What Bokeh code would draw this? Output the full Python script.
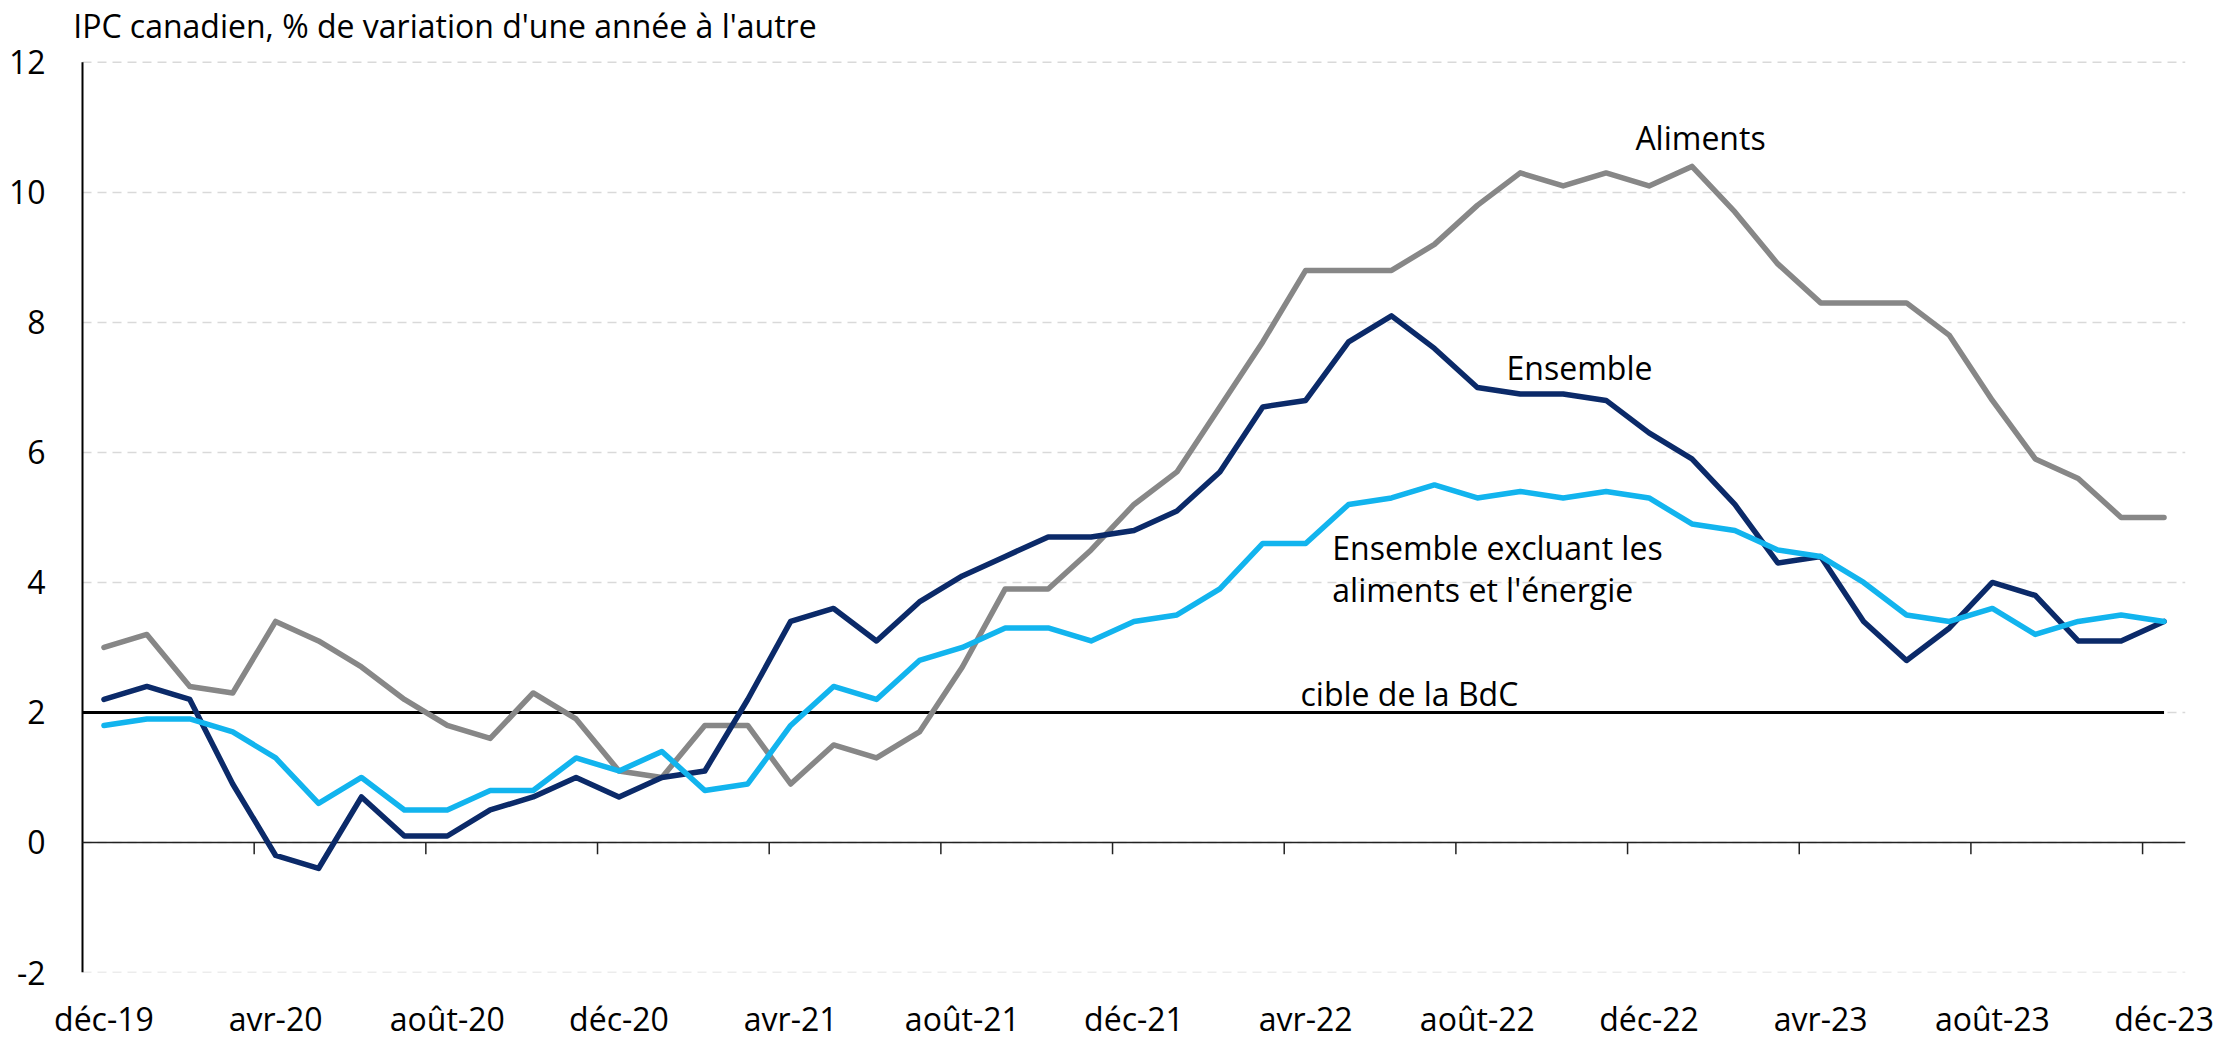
from bokeh.plotting import figure
from bokeh.models import Range1d, FixedTicker, Label
from bokeh.embed import file_html
from bokeh.resources import INLINE

# ---------------- data ----------------
mois_noms = ["janv", "févr", "mars", "avr", "mai", "juin",
             "juil", "août", "sept", "oct", "nov", "déc"]
# déc-19 ... déc-23 (49 mois)
mois = ["déc-19"] + [f"{m}-{a}" for a in range(20, 24) for m in mois_noms]

aliments = [3.0, 3.2, 2.4, 2.3, 3.4, 3.1, 2.7, 2.2, 1.8, 1.6, 2.3, 1.9,
            1.1, 1.0, 1.8, 1.8, 0.9, 1.5, 1.3, 1.7, 2.7, 3.9, 3.9, 4.5,
            5.2, 5.7, 6.7, 7.7, 8.8, 8.8, 8.8, 9.2, 9.8, 10.3, 10.1, 10.3,
            10.1, 10.4, 9.7, 8.9, 8.3, 8.3, 8.3, 7.8, 6.8, 5.9, 5.6, 5.0, 5.0]

ensemble = [2.2, 2.4, 2.2, 0.9, -0.2, -0.4, 0.7, 0.1, 0.1, 0.5, 0.7, 1.0,
            0.7, 1.0, 1.1, 2.2, 3.4, 3.6, 3.1, 3.7, 4.1, 4.4, 4.7, 4.7,
            4.8, 5.1, 5.7, 6.7, 6.8, 7.7, 8.1, 7.6, 7.0, 6.9, 6.9, 6.8,
            6.3, 5.9, 5.2, 4.3, 4.4, 3.4, 2.8, 3.3, 4.0, 3.8, 3.1, 3.1, 3.4]

hors_alim_energie = [1.8, 1.9, 1.9, 1.7, 1.3, 0.6, 1.0, 0.5, 0.5, 0.8, 0.8, 1.3,
                     1.1, 1.4, 0.8, 0.9, 1.8, 2.4, 2.2, 2.8, 3.0, 3.3, 3.3, 3.1,
                     3.4, 3.5, 3.9, 4.6, 4.6, 5.2, 5.3, 5.5, 5.3, 5.4, 5.3, 5.4,
                     5.3, 4.9, 4.8, 4.5, 4.4, 4.0, 3.5, 3.4, 3.6, 3.2, 3.4, 3.5, 3.4]

cible = 2.0
y_ticks = [-2, 0, 2, 4, 6, 8, 10, 12]
y_labels = {t: str(t) for t in y_ticks}

titre = "IPC canadien, % de variation d'une année à l'autre"

# ---------------- style ----------------
FONT = "Open Sans"
FS = "32px"
C_ALIM = "#878787"
C_ENS = "#0b2a69"
C_CORE = "#12b4ee"
C_AXE = "#222222"

n = len(mois)
x = list(range(n))
x0, x1 = -0.5, n - 0.5            # category band edges
y0, y1 = y_ticks[0], y_ticks[-1]  # value axis extent

# frame is a little larger than the value axis so the caption sits inside it
W, H = 2233, 1042
left_pad_px, top_pad_px = 12, 62
px_cat = (W - 70 - 48) / (x1 - x0 + left_pad_px / 42.92)
px_val = (H - 68) / (y1 - y0 + top_pad_px / 65.19)

p = figure(width=W, height=H, output_backend="svg", toolbar_location=None,
           x_range=Range1d(x0 - left_pad_px / px_cat, x1),
           y_range=Range1d(y0, y1 + top_pad_px / px_val),
           min_border_left=70, min_border_right=48, min_border_top=0,
           min_border_bottom=68)
p.outline_line_color = None
p.background_fill_color = "white"
p.border_fill_color = "white"

# x axis (labels only, at the bottom)
lab_idx = list(range(0, n, 4))
p.xaxis.ticker = FixedTicker(ticks=lab_idx)
p.xaxis.major_label_overrides = {i: mois[i] for i in lab_idx}
p.xaxis.axis_line_color = None
p.xaxis.major_tick_line_color = None
p.xaxis.minor_tick_line_color = None
p.xaxis.major_tick_out = 0
p.xaxis.major_tick_in = 0
p.xaxis.major_label_standoff = 24
p.xaxis.major_label_text_line_height = 1.0
p.xaxis.major_label_text_font = FONT
p.xaxis.major_label_text_font_size = FS
p.xaxis.major_label_text_color = "black"
p.xgrid.visible = False
p.ygrid.visible = False

# y axis (labels only; axis line drawn below)
p.yaxis.ticker = FixedTicker(ticks=y_ticks)
p.yaxis.major_label_overrides = y_labels
p.yaxis.axis_line_color = None
p.yaxis.major_tick_line_color = None
p.yaxis.minor_tick_line_color = None
p.yaxis.major_tick_out = 0
p.yaxis.major_tick_in = 0
p.yaxis.major_label_standoff = 25
p.yaxis.major_label_text_font = FONT
p.yaxis.major_label_text_font_size = FS
p.yaxis.major_label_text_color = "black"

# dashed horizontal gridlines between the category edges
p.segment(x0=[x0] * len(y_ticks), y0=y_ticks, x1=[x1] * len(y_ticks), y1=y_ticks,
          line_color="#d9d9d9", line_dash="9 6", line_width=1.5)

# value axis line
p.segment(x0=[x0], y0=[y0], x1=[x0], y1=[y1], line_color="black", line_width=2)

# zero line with category-boundary tick marks
p.segment(x0=[x0], y0=[0], x1=[x1], y1=[0], line_color=C_AXE, line_width=1.5)
bords = [i + 3.5 for i in range(0, n - 1, 4)]
p.segment(x0=bords, y0=[0] * len(bords), x1=bords, y1=[-0.18] * len(bords),
          line_color=C_AXE, line_width=1.5)

# target line
p.line([x0, n - 1], [cible, cible], line_color="black", line_width=3)

# series
p.line(x, aliments, line_color=C_ALIM, line_width=5.5, line_join="round", line_cap="round")
p.line(x, ensemble, line_color=C_ENS, line_width=5.5, line_join="round", line_cap="round")
p.line(x, hors_alim_energie, line_color=C_CORE, line_width=5.5, line_join="round", line_cap="round")

# texts
def lab(xv, yv, txt, align="left", dx=0):
    p.add_layout(Label(x=xv, y=yv, text=txt, text_align=align, text_baseline="alphabetic",
                       x_offset=dx, text_font=FONT, text_font_size=FS, text_color="black"))

lab(x0, 12.56, titre, dx=-9.3)
lab(37.2, 10.85, "Aliments", align="center")
lab(34.38, 7.30, "Ensemble", align="center")
lab(28.62, 4.53, "Ensemble excluant les")
lab(28.62, 3.89, "aliments et l'énergie")
lab(27.88, 2.29, "cible de la BdC")

open("out.html", "w").write(file_html(p, INLINE))
